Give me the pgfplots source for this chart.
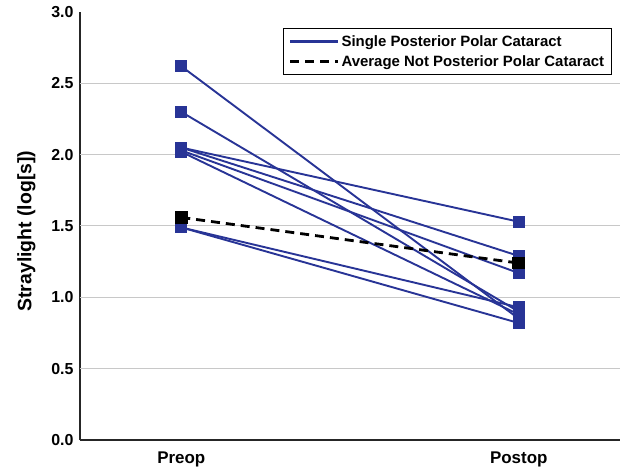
\documentclass[border=0pt]{standalone}
\usepackage{pgfplots}
\pgfplotsset{compat=1.18}
\usepackage{fontspec}
\setmainfont{Liberation Sans}
\definecolor{pblue}{RGB}{40,52,150}
\definecolor{gridgray}{RGB}{200,200,200}
\begin{document}
\begin{tikzpicture}
\begin{axis}[
  name=ax,
  scale only axis,
  width=540bp, height=428bp,
  xmin=-0.3, xmax=1.3,
  ymin=0, ymax=3,
  axis lines=left,
  axis line style={-, line width=1.1bp, black!85},
  xtick={0,1},
  xticklabels={Preop,Postop},
  ytick={0,0.5,1,1.5,2,2.5,3},
  yticklabels={0.0,0.5,1.0,1.5,2.0,2.5,3.0},
  major tick length=0pt,
  extra y ticks={0.5,1,1.5,2,2.5},
  extra y tick labels={},
  extra y tick style={grid=major, major grid style={gridgray, line width=1bp}},
  tick label style={font=\fontsize{16}{18}\selectfont\bfseries},
  xticklabel style={font=\fontsize{17}{19}\selectfont\bfseries, yshift=-8bp},
  yticklabel style={xshift=-3bp},
  ylabel={Straylight (log[s])},
  ylabel style={font=\fontsize{19.5}{22}\selectfont\bfseries, at={(axis description cs:-0.076,0.488)}, anchor=south},
  legend style={at={(0.376,0.963)}, anchor=north west, draw=black, line width=1bp,
    font=\fontsize{15}{17}\selectfont\bfseries, inner xsep=5bp, inner ysep=5bp,
    row sep=4bp, cells={anchor=west}},
  legend image code/.code={\draw[#1] (0bp,0bp) -- (48bp,0bp);},
  clip=false,
]
\addlegendimage{pblue, line width=2.2bp}
\addlegendentry{Single Posterior Polar Cataract}
\addlegendimage{black, line width=3bp, dash pattern=on 9bp off 6bp}
\addlegendentry{Average Not Posterior Polar Cataract}
\pgfplotsset{blueline/.style={pblue, line width=1.9bp, mark=square*, mark size=5bp, mark options={solid, rounded corners=1.5bp}, forget plot}}
\addplot[blueline] coordinates {(0,2.62) (1,0.85)};
\addplot[blueline] coordinates {(0,2.30) (1,0.90)};
\addplot[blueline] coordinates {(0,2.05) (1,1.53)};
\addplot[blueline] coordinates {(0,2.05) (1,1.29)};
\addplot[blueline] coordinates {(0,2.03) (1,1.17)};
\addplot[blueline] coordinates {(0,2.02) (1,0.88)};
\addplot[blueline] coordinates {(0,1.49) (1,0.93)};
\addplot[blueline] coordinates {(0,1.49) (1,0.82)};
\addplot[black, line width=2.8bp, dash pattern=on 9bp off 6bp, mark=square*, mark size=5bp, mark options={solid, rounded corners=1.5bp}, forget plot] coordinates {(0,1.56) (1,1.24)};
\end{axis}
\path (ax.south west) ++(-80bp,-32bp) rectangle ([shift={(6bp,12bp)}]ax.north east);
\end{tikzpicture}
\end{document}
